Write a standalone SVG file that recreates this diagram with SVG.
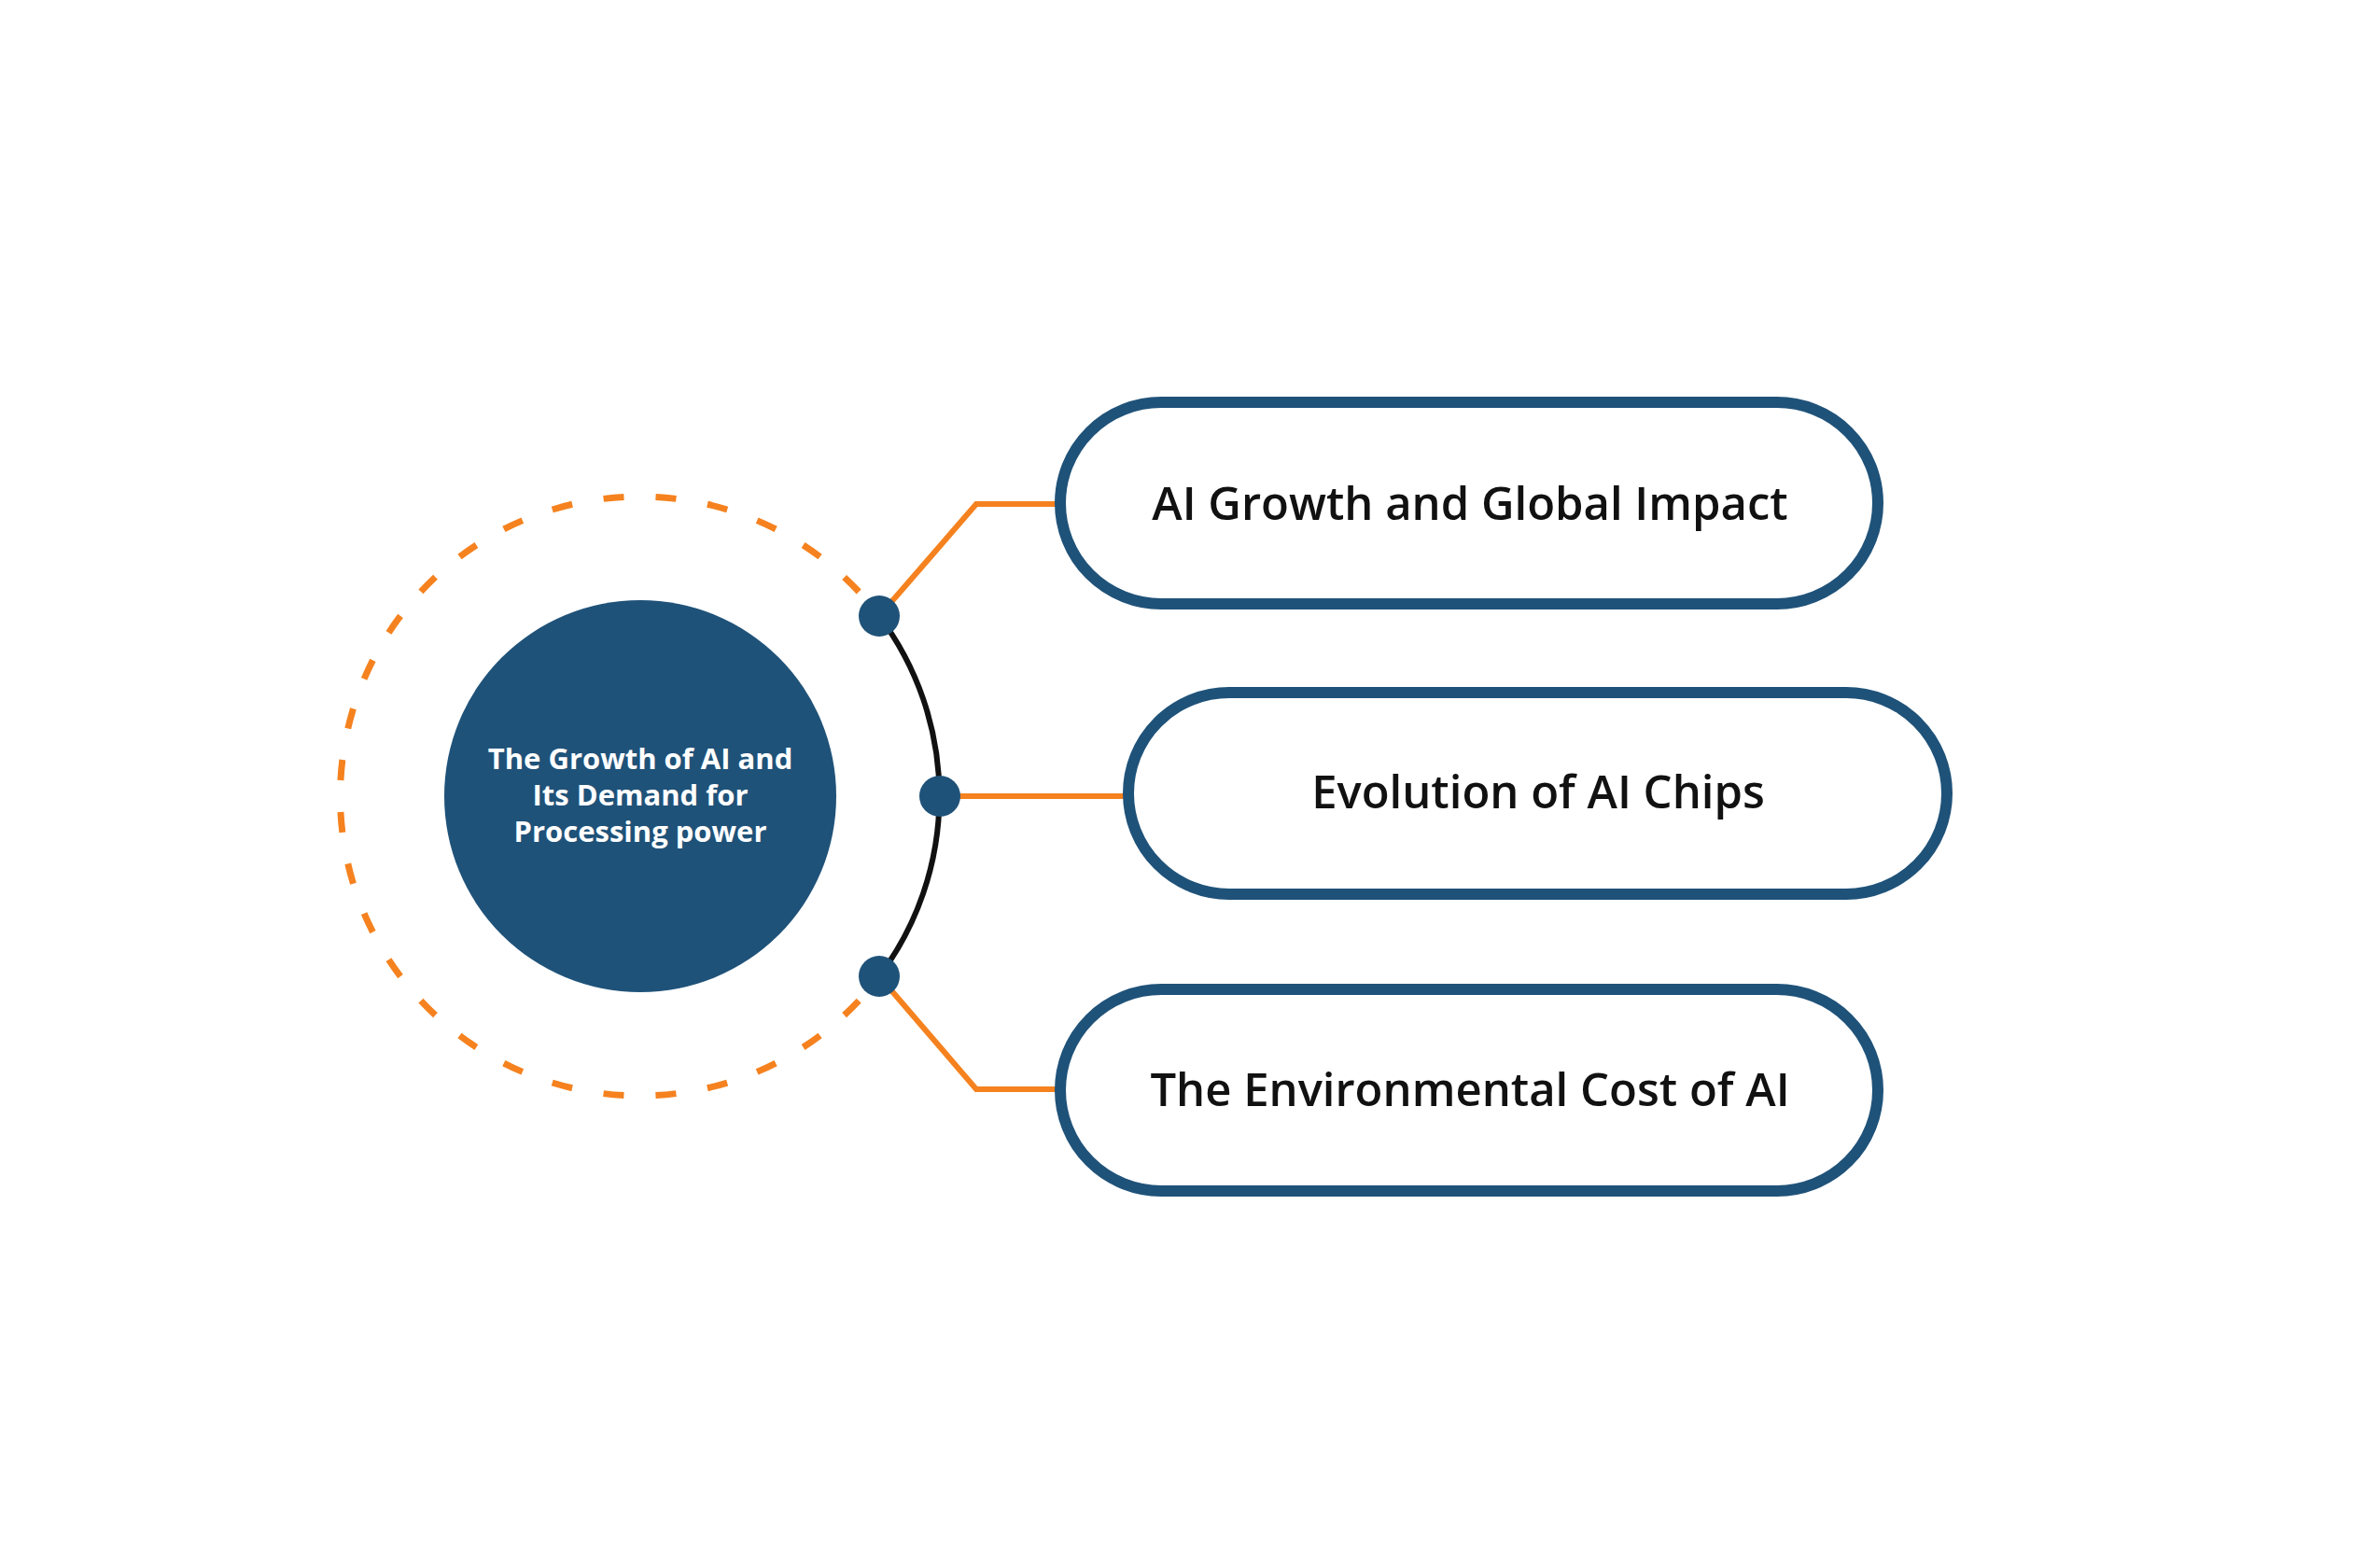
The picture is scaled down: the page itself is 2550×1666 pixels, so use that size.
<svg xmlns="http://www.w3.org/2000/svg" width="2550" height="1666" viewBox="0 0 2550 1666">
<style>
.box{fill:#ffffff;stroke:#1F5279;stroke-width:12}
.lbl{font-family:"Open Sans","Liberation Sans",sans-serif;font-size:49px;font-weight:600;fill:#111111;text-anchor:middle}
.ctr{font-family:"Open Sans","Liberation Sans",sans-serif;font-size:31px;font-weight:700;fill:#ffffff;text-anchor:middle}
.conn{fill:none;stroke:#F5821F;stroke-width:6}
.dot{fill:#1F5279}
</style>
<rect width="2550" height="1666" fill="#ffffff"/>
<g id="ring">
<path d="M 942 660 A 321 321 0 1 0 942 1046" fill="none" stroke="#F5821F" stroke-width="7" stroke-dasharray="22 34" stroke-dashoffset="22"/>
<path d="M 942 660 A 321 321 0 0 1 942 1046" fill="none" stroke="#111111" stroke-width="6"/>
</g>
<g id="connectors">
<path class="conn" d="M 942 660 L 1046 540 L 1136 540"/>
<path class="conn" d="M 1007 853 L 1209 853"/>
<path class="conn" d="M 942 1046 L 1046 1167 L 1136 1167"/>
</g>
<g id="center">
<circle cx="686" cy="853" r="210" fill="#1F5279"/>
<text class="ctr" x="686" y="824">The Growth of AI and</text>
<text class="ctr" x="686" y="863">Its Demand for</text>
<text class="ctr" x="686" y="902">Processing power</text>
</g>
<g id="dots">
<circle class="dot" cx="942" cy="660" r="22"/>
<circle class="dot" cx="1007" cy="853" r="22"/>
<circle class="dot" cx="942" cy="1046" r="22"/>
</g>
<g id="node1">
<rect class="box" x="1136" y="431" width="876" height="216" rx="108"/>
<text class="lbl" x="1575" y="557">AI Growth and Global Impact</text>
</g>
<g id="node2">
<rect class="box" x="1209" y="742" width="877" height="216" rx="108"/>
<text class="lbl" x="1648" y="866">Evolution of AI Chips</text>
</g>
<g id="node3">
<rect class="box" x="1136" y="1060" width="876" height="216" rx="108"/>
<text class="lbl" x="1575" y="1185">The Environmental Cost of AI</text>
</g>
</svg>
